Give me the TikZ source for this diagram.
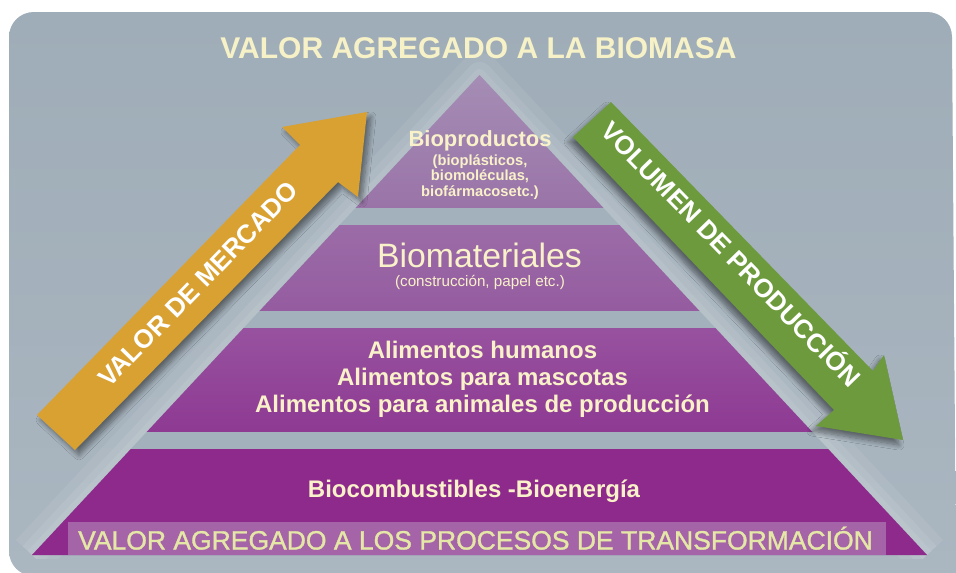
\documentclass[tikz,border=0pt]{standalone}
\usepackage{fontspec}
\setmainfont{Liberation Sans}
\usetikzlibrary{shadows.blur}
\definecolor{bgtop}{HTML}{9FADB8}
\definecolor{bgbot}{HTML}{AAB6C0}
\definecolor{bgmid}{HTML}{A3B1BC}
\definecolor{bandAt}{HTML}{A690B6}
\definecolor{bandAb}{HTML}{9A74A8}
\definecolor{bandBt}{HTML}{9B6CA7}
\definecolor{bandBb}{HTML}{955CA0}
\definecolor{bandCt}{HTML}{97529F}
\definecolor{bandCb}{HTML}{8E3A93}
\definecolor{bandD}{HTML}{8E2A8C}
\definecolor{labbox}{HTML}{A563A8}
\definecolor{labtext}{HTML}{E4E7A6}
\definecolor{cream}{HTML}{F8F1C9}
\definecolor{titlec}{HTML}{F6F1C6}
\definecolor{orangearr}{HTML}{D9A132}
\definecolor{greenarr}{HTML}{6C9A3C}
\tikzset{
  txt/.style={inner sep=0pt, anchor=base, text=cream},
  bigbold/.style={txt, font=\bfseries\fontsize{24}{24}\selectfont},
  smallbold/.style={txt, font=\bfseries\fontsize{14.7}{15}\selectfont},
  arrtext/.style={inner sep=0pt, anchor=center, text=white, text height=0.72em, text depth=0pt,
    font=\bfseries\fontsize{26}{26}\selectfont},
  arrshadow/.style={blur shadow={shadow xshift=#1, shadow yshift=-5pt, shadow blur steps=10, shadow opacity=45, shadow blur radius=5pt}}
}
\begin{document}
\begin{tikzpicture}[x=1pt,y=-1pt]
\useasboundingbox (0,0) rectangle (956,573);
\fill[white] (0,0) rectangle (956,573);
\begin{scope}
\clip (0,0) rectangle (956,573);
\shade[top color=bgtop, bottom color=bgbot] (956,576) -- (34,576) .. controls (20,576) and (9,565) .. (9,551) -- (9,37) .. controls (9,23) and (20,12) .. (34,12) -- (927,12) .. controls (941,12) and (952,23) .. (952,37) -- (956,573) -- cycle;
\end{scope}
% halo round the pyramid
\begin{scope}
\clip (0,0) rectangle (956,558);
\draw[white, opacity=0.07, line width=44pt, line join=round] (32,555) -- (479.5,75) -- (927,555);
\draw[white, opacity=0.08, line width=26pt, line join=round] (32,555) -- (479.5,75) -- (927,555);
\draw[white, opacity=0.08, line width=12pt, line join=round] (32,555) -- (479.5,75) -- (927,555);
\end{scope}
\fill[bgmid] (32,555) -- (479.5,75) -- (927,555) -- cycle;
% bands
\begin{scope}
\clip (32,555) -- (479.5,75) -- (927,555) -- cycle;
\shade[top color=bandAt, bottom color=bandAb] (0,60) rectangle (956,207);
\shade[top color=bandBt, bottom color=bandBb] (0,225) rectangle (956,310);
\shade[top color=bandCt, bottom color=bandCb] (0,328) rectangle (956,431);
\fill[bandD] (0,449) rectangle (956,556);
\end{scope}
\fill[labbox] (68,522) rectangle (886,555);
% arrows
\fill[orangearr, arrshadow=4pt] (37,415) -- (300,145) -- (282,127) -- (367,112) -- (358,197) -- (338,182) -- (75,450) -- cycle;
\fill[greenarr, arrshadow=-4pt] (573,137) -- (611,102) -- (873,371) -- (884,355) -- (903,440) -- (816,426) -- (834,410) -- cycle;
% texts
\node[txt, text=titlec, font=\bfseries\fontsize{30}{30}\selectfont] (title) at (478.5,58) {VALOR AGREGADO A LA BIOMASA};
\node[txt, font=\bfseries\fontsize{22}{22}\selectfont] (bioprod) at (480,146) {Bioproductos};
\node[smallbold] (bp1) at (480,165) {(bioplásticos,};
\node[smallbold] (bp2) at (480,180.5) {biomoléculas,};
\node[smallbold] (bp3) at (480,196) {biofármacosetc.)};
\node[txt, font=\fontsize{33.8}{34}\selectfont] (biomat) at (479.5,267) {Biomateriales};
\node[txt, font=\fontsize{15.2}{16}\selectfont] (bm1) at (480,286) {(construcción, papel etc.)};
\node[bigbold] (al1) at (482.5,358) {Alimentos humanos};
\node[bigbold] (al2) at (482.5,385) {Alimentos para mascotas};
\node[bigbold] (al3) at (482.5,412) {Alimentos para animales de producción};
\node[bigbold] (bioc) at (474,497) {Biocombustibles -Bioenergía};
\node[txt, text=labtext, font=\addfontfeature{FakeBold=1.2}\fontsize{26.5}{27}\selectfont] (proc) at (475.5,549.5) {VALOR AGREGADO A LOS PROCESOS DE TRANSFORMACIÓN};
\node[arrtext, rotate=45.8] (mercado) at (202,288) {VALOR DE MERCADO};
\node[arrtext, rotate=-45.8] (volumen) at (727,258) {VOLUMEN DE PRODUCCIÓN};
\end{tikzpicture}
\end{document}
